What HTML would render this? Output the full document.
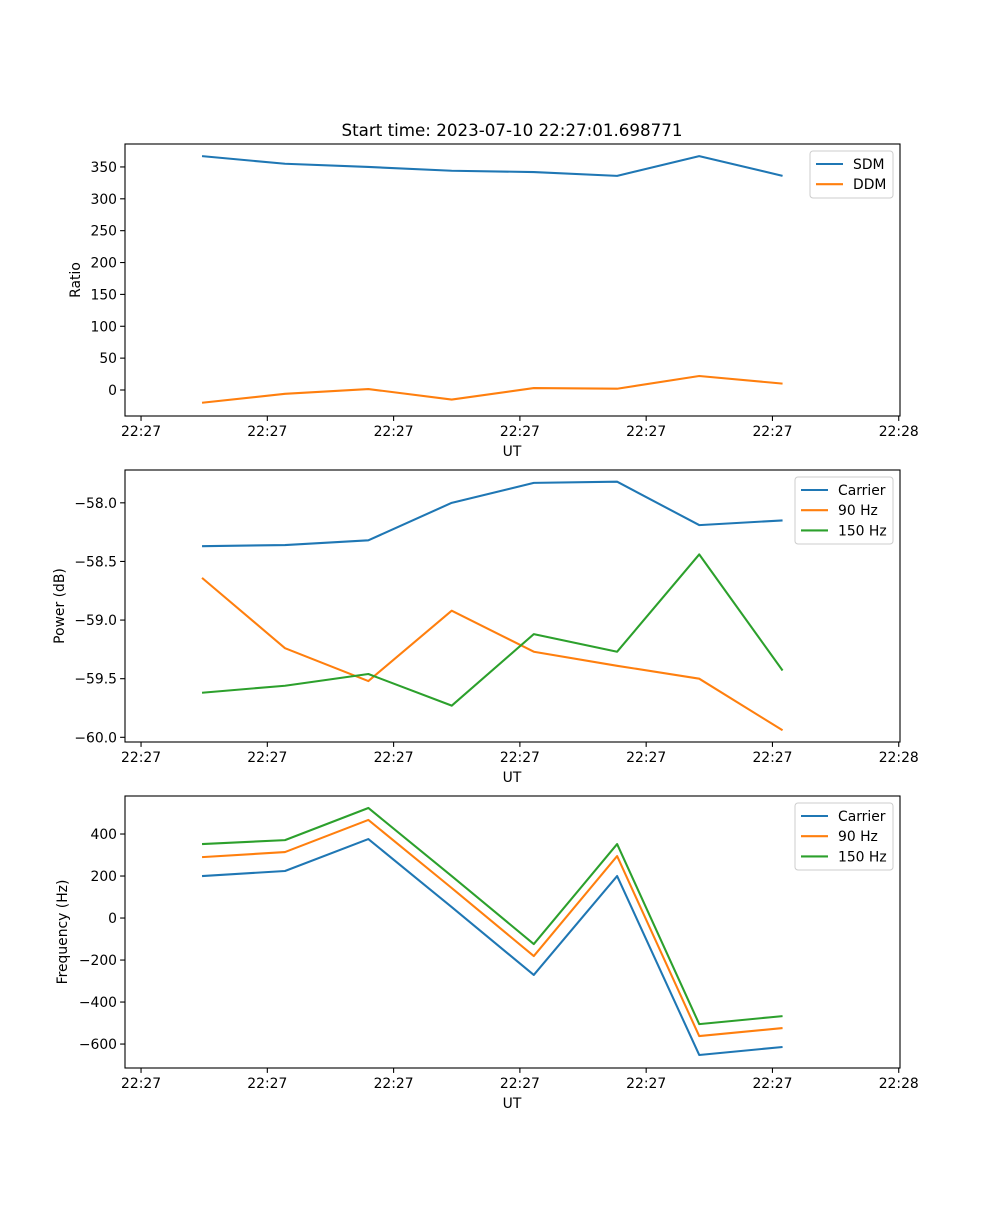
<!DOCTYPE html>
<html><head><meta charset="utf-8"><style>
body{margin:0;background:#fff}
svg{font-family:"DejaVu Sans","Liberation Sans",sans-serif}
</style></head><body>
<svg id="fig" width="1000" height="1200" xmlns="http://www.w3.org/2000/svg">
<rect width="1000" height="1200" fill="#fff"/>
<text x="512" y="136" font-size="16.7" text-anchor="middle">Start time: 2023-07-10 22:27:01.698771</text>
</svg>
<script>
const xTickVals=[0,1,2,3,4,5,6];
const xTickLabels=["22:27","22:27","22:27","22:27","22:27","22:27","22:28"];
const times=[0.483,1.14,1.80,2.46,3.11,3.77,4.42,5.08];
const sdm=[367,355,350,344,342,336,367,336];
const ddm=[-20,-6,1.5,-15,3,2,22,10];
const powCarrier=[-58.37,-58.36,-58.32,-58.0,-57.83,-57.82,-58.19,-58.15];
const pow90=[-58.64,-59.24,-59.52,-58.92,-59.27,-59.39,-59.50,-59.94];
const pow150=[-59.62,-59.56,-59.46,-59.73,-59.12,-59.27,-58.44,-59.43];
const freqCarrier=[200,224,376,52,-271,200,-652,-614];
const freq90=[290,314,467,143,-181,295,-562,-524];
const freq150=[352,371,524,200,-124,352,-505,-467];
const ratioTicks=[0,50,100,150,200,250,300,350];
const powTicks=[-58.0,-58.5,-59.0,-59.5,-60.0];
const freqTicks=[-600,-400,-200,0,200,400];

const NS="http://www.w3.org/2000/svg";
const svg=document.getElementById('fig');
const C=["#1f77b4","#ff7f0e","#2ca02c"];
function el(tag,attrs,parent){const e=document.createElementNS(NS,tag);for(const k in attrs)e.setAttribute(k,attrs[k]);(parent||svg).appendChild(e);return e;}
const X0=125,X1=900,XMIN=-0.127,XMAX=6.01;
function sx(v){return X0+(v-XMIN)/(XMAX-XMIN)*(X1-X0);}

function panel(name,top,bot,ymin,ymax,yTicks,fmt,ylabel,ylx,series,labels,legW){
  const g=el('g',{});
  
  
  const sy=v=>bot-(v-ymin)/(ymax-ymin)*(bot-top);
  xTickVals.forEach((v,i)=>{
    const x=sx(v);
    el('line',{x1:x,x2:x,y1:bot,y2:bot+4.9,stroke:'#000','stroke-width':1.1},g);
    const t=el('text',{x:x,y:bot+20,'font-size':13.9,'text-anchor':'middle'},g);
    t.textContent=xTickLabels[i];
    
    
  });
  yTicks.forEach(v=>{
    const y=sy(v);
    el('line',{x1:X0,x2:X0-4.9,y1:y,y2:y,stroke:'#000','stroke-width':1.1},g);
    const t=el('text',{x:X0-8,y:y+5,'font-size':13.9,'text-anchor':'end'},g);
    t.textContent=fmt(v).replace('-','\u2212');
    
    
  });
  series.forEach((s,i)=>{
    const p=el('polyline',{points:s.map((v,j)=>sx(times[j])+','+sy(v)).join(' '),fill:'none',stroke:C[i],'stroke-width':2.08,'stroke-linejoin':'round'},g);
    
    
  });
  el('rect',{x:X0,y:top,width:X1-X0,height:bot-top,fill:'none',stroke:'#000','stroke-width':1.1},g);
  const xl=el('text',{x:512,y:bot+40,'font-size':13.9,'text-anchor':'middle'},g);
  xl.textContent='UT';
  
  
  const yl=el('text',{x:ylx,y:(top+bot)/2,'font-size':13.9,'text-anchor':'middle',transform:`rotate(-90 ${ylx} ${(top+bot)/2})`},g);
  yl.textContent=ylabel;
  
  
  const lx=X1-7-legW,ly=top+7,lh=7+labels.length*20;
  const lg=el('g',{},g);
  
  
  el('rect',{x:lx,y:ly,width:legW,height:lh,rx:3,fill:'#fff','fill-opacity':0.8,stroke:'#ccc'},lg);
  labels.forEach((L,i)=>{
    const y=ly+13+i*20.2;
    el('line',{x1:lx+6,x2:lx+33,y1:y,y2:y,stroke:C[i],'stroke-width':2.08},lg);
    const t=el('text',{x:lx+43,y:y+5,'font-size':13.9},lg);
    t.textContent=L;
    
    
  });
}
panel('ratio',144,416,-40.8,386,ratioTicks,v=>String(v),'Ratio',80,[sdm,ddm],['SDM','DDM'],83);
panel('power',470,742,-60.04,-57.72,powTicks,v=>v.toFixed(1),'Power (dB)',64,[powCarrier,pow90,pow150],['Carrier','90 Hz','150 Hz'],98);
panel('frequency',796,1068,-714,581,freqTicks,v=>String(v),'Frequency (Hz)',67,[freqCarrier,freq90,freq150],['Carrier','90 Hz','150 Hz'],98);
</script>
</body></html>
